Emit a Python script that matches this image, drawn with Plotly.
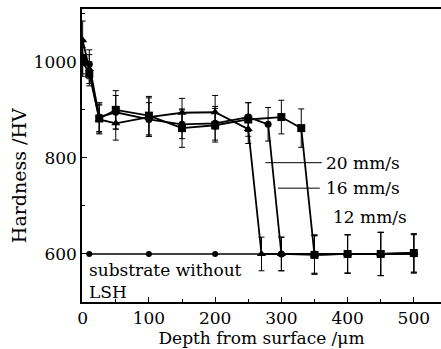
import plotly.graph_objects as go

# ---- data ----
depth_20 = [0, 10, 25, 50, 100, 150, 200, 250, 270, 300, 350, 400, 450, 500]
hv_20 = [1045, 985, 880, 872, 885, 894, 895, 860, 600, 600, 598, 600, 600, 602]
err_20 = [40, 30, 30, 35, 40, 30, 35, 30, 35, 35, 40, 40, 45, 40]

depth_16 = [0, 10, 25, 50, 100, 150, 200, 250, 280, 300, 350, 400, 450, 500]
hv_16 = [1010, 995, 885, 895, 880, 870, 872, 885, 870, 600, 600, 600, 600, 600]
err_16 = [35, 30, 30, 35, 35, 30, 35, 30, 35, 35, 40, 40, 45, 40]

depth_12 = [0, 10, 25, 50, 100, 150, 200, 250, 300, 330, 350, 400, 450, 500]
hv_12 = [1000, 975, 882, 900, 888, 862, 868, 880, 885, 862, 598, 600, 600, 602]
err_12 = [30, 25, 30, 40, 40, 40, 35, 35, 35, 40, 40, 40, 45, 40]

depth_sub = [10, 100, 200, 300, 400, 500]
hv_sub = [600, 600, 600, 600, 600, 600]

x_ticks = [0, 100, 200, 300, 400, 500]
y_ticks = [600, 800, 1000]

FONT = "DejaVu Serif"

fig = go.Figure()

def err(vals):
    return dict(type="data", array=vals, visible=True, color="black",
                thickness=1, width=3)

fig.add_trace(go.Scatter(x=depth_sub, y=hv_sub, mode="lines+markers",
                         line=dict(color="black", width=1.6),
                         marker=dict(symbol="circle", size=6, color="black"),
                         name="substrate", showlegend=False))
fig.add_trace(go.Scatter(x=depth_20, y=hv_20, mode="lines+markers",
                         line=dict(color="black", width=1.8),
                         marker=dict(symbol="triangle-up", size=8, color="black"),
                         error_y=err(err_20), name="20 mm/s", showlegend=False))
fig.add_trace(go.Scatter(x=depth_16, y=hv_16, mode="lines+markers",
                         line=dict(color="black", width=1.8),
                         marker=dict(symbol="circle", size=7, color="black"),
                         error_y=err(err_16), name="16 mm/s", showlegend=False))
fig.add_trace(go.Scatter(x=depth_12, y=hv_12, mode="lines+markers",
                         line=dict(color="black", width=1.8),
                         marker=dict(symbol="square", size=8, color="black"),
                         error_y=err(err_12), name="12 mm/s", showlegend=False))

# leader lines for labels
fig.add_shape(type="line", x0=276, x1=361, y0=790, y1=790,
              line=dict(color="black", width=1))
fig.add_shape(type="line", x0=295, x1=358, y0=737, y1=737,
              line=dict(color="black", width=1))

ann_font = dict(family=FONT, size=17, color="black")
fig.add_annotation(x=364, y=790, text="20 mm/s", showarrow=False,
                   xanchor="left", yanchor="middle", font=ann_font)
fig.add_annotation(x=364, y=737, text="16 mm/s", showarrow=False,
                   xanchor="left", yanchor="middle", font=ann_font)
fig.add_annotation(x=375, y=677, text="12 mm/s", showarrow=False,
                   xanchor="left", yanchor="middle", font=ann_font)
fig.add_annotation(x=6, y=566, text="substrate without", showarrow=False,
                   xanchor="left", yanchor="middle", font=ann_font)
fig.add_annotation(x=6, y=520, text="LSH", showarrow=False,
                   xanchor="left", yanchor="middle", font=ann_font)

# y axis title (placed lower than centre, as in the reference)
fig.add_annotation(xref="paper", yref="paper", x=-0.175, y=0.43,
                   text="Hardness /HV", textangle=-90, showarrow=False,
                   xanchor="center", yanchor="middle",
                   font=dict(family=FONT, size=19, color="black"))

axis_common = dict(showline=True, linecolor="black", linewidth=1.5,
                   ticks="inside", ticklen=5, tickcolor="black", tickwidth=1,
                   showgrid=False, zeroline=False,
                   tickfont=dict(family=FONT, size=17, color="black"))

fig.update_xaxes(range=[-1, 541], tickvals=x_ticks, mirror=True,
                 minor=dict(dtick=50, ticks="inside", ticklen=3, tickcolor="black"),
                 title=dict(text="Depth from surface /μm", standoff=2,
                            font=dict(family=FONT, size=17, color="black")),
                 **axis_common)
fig.update_yaxes(range=[500, 1110], tickvals=y_ticks, mirror=False,
                 minor=dict(dtick=100, ticks="inside", ticklen=3, tickcolor="black"),
                 **axis_common)

fig.update_layout(width=441, height=349,
                  margin=dict(l=82, r=0, t=9, b=47),
                  plot_bgcolor="white", paper_bgcolor="white",
                  font=dict(family=FONT, size=17, color="black"))

fig.write_html("out.html")
